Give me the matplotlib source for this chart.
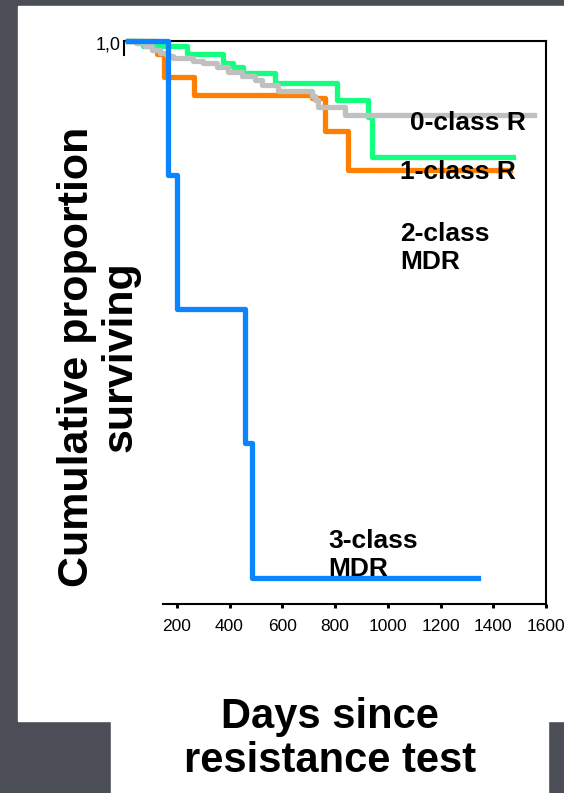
import matplotlib.pyplot as plt
from matplotlib.patches import Rectangle

# days since test -> cumulative proportion surviving (step curves)
t_blue = [15, 167, 201, 459, 486, 1344]
s_blue = [1.0, 0.762, 0.524, 0.286, 0.046, 0.046]

t_orange = [15, 125, 152, 266, 714, 763, 850, 1465]
s_orange = [1.0, 0.977, 0.936, 0.904, 0.899, 0.840, 0.771, 0.771]

t_green = [15, 72, 239, 376, 414, 452, 573, 809, 926, 942, 1473]
s_green = [1.0, 0.991, 0.977, 0.961, 0.954, 0.943, 0.925, 0.895, 0.865, 0.794, 0.794]

t_gray = [15, 46, 80, 106, 137, 163, 186, 262, 300, 353, 395, 448, 497, 524,
          585, 714, 725, 737, 839, 1553]
s_gray = [1.0, 0.996, 0.991, 0.984, 0.979, 0.973, 0.970, 0.964, 0.961, 0.954,
          0.945, 0.938, 0.931, 0.922, 0.911, 0.902, 0.895, 0.883, 0.869, 0.869]

xticks = [200, 400, 600, 800, 1000, 1200, 1400, 1600]

W, H = 564, 793
fig = plt.figure(figsize=(W / 100, H / 100), dpi=100, facecolor='#4b4e57')

# white slide panels
fig.patches.append(Rectangle((18 / W, 1 - 721 / H), (W - 18) / W, (721 - 6) / H,
                             transform=fig.transFigure, color='white', zorder=-10))
fig.patches.append(Rectangle((111 / W, 0), (548 - 111) / W, (793 - 715) / H,
                             transform=fig.transFigure, color='white', zorder=-10))

ax = fig.add_axes([124 / W, 1 - 604 / H, (546 - 124) / W, (604 - 41) / H])
ax.set_zorder(5)
ax.patch.set_alpha(0)
ax.set_xlim(0, 1600)
ax.set_ylim(0, 1)

lw = 3.8
ax.step(t_orange, s_orange, where='post', color='#ff8000', lw=lw, zorder=3, clip_on=False)
ax.step(t_green, s_green, where='post', color='#14ff80', lw=lw, zorder=3, clip_on=False)
ax.step(t_gray, s_gray, where='post', color='#c0c0c0', lw=lw, zorder=3, clip_on=False)
ax.step(t_blue, s_blue, where='post', color='#0a84ff', lw=lw, zorder=4, clip_on=False)

for sp in ['top', 'right', 'bottom', 'left']:
    ax.spines[sp].set_linewidth(1.5)
    ax.spines[sp].set_color('black')
ax.spines['bottom'].set_bounds(148, 1600)
ax.spines['left'].set_bounds(0.975, 1.0)

ax.set_xticks(xticks)
ax.set_xticklabels([str(v) for v in xticks], family='Liberation Sans', fontsize=12.5)
ax.tick_params(axis='x', direction='out', length=3, width=2.2, pad=8)
ax.set_yticks([])
ax.text(-11, 0.993, '1,0', ha='right', va='center', family='Liberation Sans', fontsize=13)

bold = dict(fontsize=19, fontweight='bold', family='Liberation Sans', color='black', zorder=5)
ax.text(1086, 0.854, '0-class R', ha='left', va='center', **bold)
ax.text(1048, 0.767, '1-class R', ha='left', va='center', **bold)
ax.text(1048, 0.632, '2-class\nMDR', ha='left', va='center', linespacing=1.2, **bold)
ax.text(774, 0.087, '3-class\nMDR', ha='left', va='center', linespacing=1.2, **bold)

fig.text(99 / W, 1 - 357 / H, 'Cumulative proportion\nsurviving', rotation=90,
         ha='center', va='center', fontsize=31, fontweight='bold',
         family='Liberation Sans', linespacing=1.1)
fig.text(330 / W, 1 - 739 / H, 'Days since\nresistance test', ha='center', va='center',
         fontsize=30, fontweight='bold', family='Liberation Sans', linespacing=1.15)

fig.savefig('out.png', dpi=100, facecolor=fig.get_facecolor())
